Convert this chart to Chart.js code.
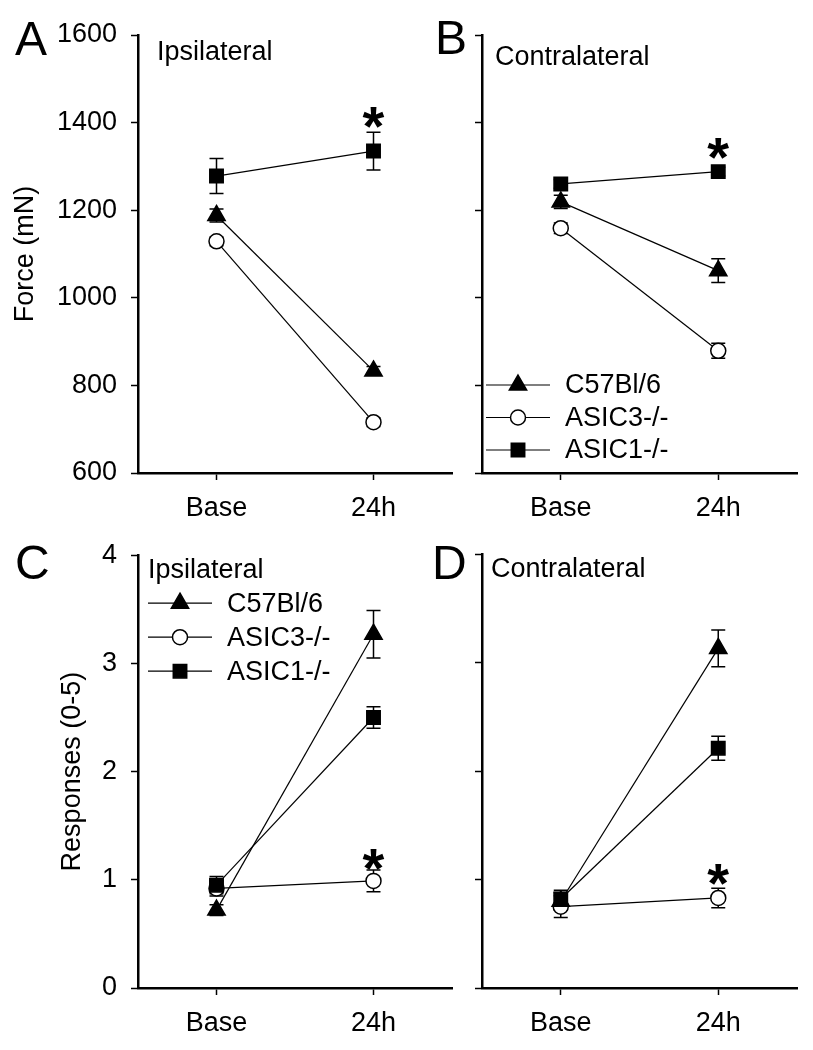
<!DOCTYPE html>
<html>
<head>
<meta charset="utf-8">
<script src="https://cdn.jsdelivr.net/npm/chart.js@4.4.1/dist/chart.umd.min.js"></script>
<style>
  html, body { margin: 0; padding: 0; background: #fff; }
  #fig { position: relative; width: 813px; height: 1050px; }
  canvas { position: absolute; }
</style>
</head>
<body>
<div id="fig">
  <canvas id="panelA" width="470" height="525" style="left:0;top:0"></canvas>
  <canvas id="panelB" width="383" height="525" style="left:430px;top:0"></canvas>
  <canvas id="panelC" width="470" height="525" style="left:0;top:525px"></canvas>
  <canvas id="panelD" width="383" height="525" style="left:430px;top:525px"></canvas>
</div>
<script>
// data
const groups = ['Base', '24h'];
const strains = ['C57Bl/6', 'ASIC3-/-', 'ASIC1-/-'];

// A - force, ipsilateral
const forceIpsiC57 = [1188, 833];
const forceIpsiC57Err = [15, 10];
const forceIpsiAsic3 = [1129, 716];
const forceIpsiAsic3Err = [10, 10];
const forceIpsiAsic1 = [1278, 1335];
const forceIpsiAsic1Err = [40, 43];

// B - force, contralateral
const forceContraC57 = [1219, 1062];
const forceContraC57Err = [15, 27];
const forceContraAsic3 = [1159, 879];
const forceContraAsic3Err = [12, 17];
const forceContraAsic1 = [1260, 1288];
const forceContraAsic1Err = [10, 10];

// C - responses, ipsilateral
const respIpsiC57 = [0.72, 3.27];
const respIpsiC57Err = [0.05, 0.22];
const respIpsiAsic3 = [0.92, 0.99];
const respIpsiAsic3Err = [0.07, 0.1];
const respIpsiAsic1 = [0.95, 2.5];
const respIpsiAsic1Err = [0.08, 0.1];

// D - responses, contralateral
const respContraC57 = [0.8, 3.13];
const respContraC57Err = [0.08, 0.17];
const respContraAsic3 = [0.75, 0.83];
const respContraAsic3Err = [0.1, 0.09];
const respContraAsic1 = [0.82, 2.21];
const respContraAsic1Err = [0.08, 0.11];

const forceTicks = [600, 800, 1000, 1200, 1400, 1600];
const respTicks = [0, 1, 2, 3, 4];

const FONT = '"Liberation Sans", Arial, sans-serif';
Chart.defaults.font.family = FONT;
Chart.defaults.color = '#000';

const markers = [
  { style: 'triangle', radius: 10, fill: '#000', order: 0 },
  { style: 'circle', radius: 7.5, fill: '#fff', order: 2 },
  { style: 'rect', radius: 9.5, fill: '#000', order: 1 }
];

// error bars, panel letter, subtitle, asterisk, legend
const extras = {
  id: 'extras',
  beforeDatasetsDraw(chart) {
    const ctx = chart.ctx, x = chart.scales.x, y = chart.scales.y;
    ctx.save();
    ctx.strokeStyle = '#000';
    ctx.lineWidth = 1.5;
    chart.data.datasets.forEach(ds => {
      ds.data.forEach((p, i) => {
        const e = ds.errors[i];
        const px = x.getPixelForValue(p.x);
        const top = y.getPixelForValue(p.y + e), bot = y.getPixelForValue(p.y - e);
        ctx.beginPath();
        ctx.moveTo(px, top); ctx.lineTo(px, bot);
        ctx.moveTo(px - 7, top); ctx.lineTo(px + 7, top);
        ctx.moveTo(px - 7, bot); ctx.lineTo(px + 7, bot);
        ctx.stroke();
      });
    });
    ctx.restore();
  },
  afterDraw(chart) {
    const o = chart.options.plugins.extras;
    const ctx = chart.ctx, area = chart.chartArea, x = chart.scales.x, y = chart.scales.y;
    ctx.save();
    ctx.fillStyle = '#000';
    ctx.textBaseline = 'alphabetic';
    ctx.textAlign = 'left';
    ctx.font = '48px ' + FONT;
    ctx.fillText(o.letter, o.letterX, o.letterY);
    ctx.font = '27px ' + FONT;
    ctx.fillText(o.subtitle, area.left + o.subX, area.top + o.subY);

    // asterisk over the marked series at 24h
    const ds = chart.data.datasets[o.star];
    const p = ds.data[1];
    const sx = x.getPixelForValue(p.x);
    const sy = y.getPixelForValue(p.y + ds.errors[1]) - o.starGap;
    ctx.font = 'bold 56px ' + FONT;
    ctx.textAlign = 'center';
    ctx.fillText('*', sx, sy + 32);

    if (o.legend) {
      const L = o.legend;
      ctx.textAlign = 'left';
      ctx.textBaseline = 'middle';
      ctx.font = '27px ' + FONT;
      chart.data.datasets.forEach((d, i) => {
        const ry = area.top + L.y + i * L.gap;
        const lx = area.left + L.x;
        ctx.strokeStyle = '#000';
        ctx.lineWidth = 1.2;
        ctx.beginPath();
        ctx.moveTo(lx, ry); ctx.lineTo(lx + 64, ry);
        ctx.stroke();
        ctx.fillStyle = d.pointBackgroundColor;
        ctx.lineWidth = 1.5;
        Chart.helpers.drawPoint(ctx, {
          pointStyle: d.pointStyle, radius: d.pointRadius, rotation: 0, borderWidth: 1.5
        }, lx + 32, ry);
        ctx.fillStyle = '#000';
        ctx.fillText(d.label, lx + 79, ry + 1);
      });
    }
    ctx.restore();
  }
};

function makePanel(id, o) {
  const datasets = o.values.map((v, i) => ({
    label: strains[i],
    data: v.map((val, j) => ({ x: j, y: val })),
    errors: o.errors[i],
    order: markers[i].order,
    borderColor: '#000',
    borderWidth: 1.2,
    pointStyle: markers[i].style,
    pointRadius: markers[i].radius,
    pointBackgroundColor: markers[i].fill,
    pointBorderColor: '#000',
    pointBorderWidth: 1.5,
    tension: 0,
    clip: false
  }));

  return new Chart(document.getElementById(id), {
    type: 'line',
    data: { datasets: datasets },
    options: {
      responsive: false,
      animation: false,
      devicePixelRatio: 1,
      events: [],
      layout: { padding: { left: o.padLeft, top: o.top, right: o.padRight, bottom: 0 } },
      plugins: {
        legend: { display: false },
        tooltip: { enabled: false },
        extras: o.extras
      },
      scales: {
        x: {
          type: 'linear',
          min: -0.5,
          max: 1.5,
          afterBuildTicks: s => { s.ticks = groups.map((g, i) => ({ value: i })); },
          afterFit: s => { s.height = o.xHeight; },
          ticks: {
            callback: v => groups[v],
            font: { size: 27 },
            color: '#000',
            padding: 12,
            maxRotation: 0,
            autoSkip: false
          },
          grid: { drawOnChartArea: false, drawTicks: true, tickLength: 7, tickWidth: 1.5, tickColor: '#000' },
          border: { display: true, color: '#000', width: 2.5 }
        },
        y: {
          min: o.ticks[0],
          max: o.ticks[o.ticks.length - 1],
          afterBuildTicks: s => { s.ticks = o.ticks.map(v => ({ value: v })); },
          afterFit: s => { s.width = o.yWidth; },
          ticks: {
            display: o.yLabels,
            callback: v => String(v),
            font: { size: 27 },
            color: '#000',
            padding: 14
          },
          title: {
            display: !!o.yTitle,
            text: o.yTitle || '',
            font: { size: 27 },
            color: '#000',
            padding: { top: 9, bottom: 0 }
          },
          grid: { drawOnChartArea: false, drawTicks: true, tickLength: 7, tickWidth: 1.5, tickColor: '#000' },
          border: { display: true, color: '#000', width: 2.5 }
        }
      }
    },
    plugins: [extras]
  });
}

makePanel('panelA', {
  values: [forceIpsiC57, forceIpsiAsic3, forceIpsiAsic1],
  errors: [forceIpsiC57Err, forceIpsiAsic3Err, forceIpsiAsic1Err],
  ticks: forceTicks, yLabels: true, yTitle: 'Force (mN)',
  padLeft: 0, yWidth: 138, padRight: 18, top: 35, xHeight: 52,
  extras: { letter: 'A', letterX: 15, letterY: 55, subtitle: 'Ipsilateral', subX: 19, subY: 25, star: 2, starGap: 19 }
});

makePanel('panelB', {
  values: [forceContraC57, forceContraAsic3, forceContraAsic1],
  errors: [forceContraC57Err, forceContraAsic3Err, forceContraAsic1Err],
  ticks: forceTicks, yLabels: false,
  padLeft: 0, yWidth: 52, padRight: 16, top: 35, xHeight: 52,
  extras: { letter: 'B', letterX: 5, letterY: 54, subtitle: 'Contralateral', subX: 13, subY: 30, star: 2, starGap: 23,
            legend: { x: 4, y: 350, gap: 32.5 } }
});

makePanel('panelC', {
  values: [respIpsiC57, respIpsiAsic3, respIpsiAsic1],
  errors: [respIpsiC57Err, respIpsiAsic3Err, respIpsiAsic1Err],
  ticks: respTicks, yLabels: true, yTitle: 'Responses (0-5)',
  padLeft: 47, yWidth: 91, padRight: 18, top: 29, xHeight: 62,
  extras: { letter: 'C', letterX: 15, letterY: 54, subtitle: 'Ipsilateral', subX: 10, subY: 23, star: 1, starGap: 15,
            legend: { x: 10, y: 48, gap: 34 } }
});

makePanel('panelD', {
  values: [respContraC57, respContraAsic3, respContraAsic1],
  errors: [respContraC57Err, respContraAsic3Err, respContraAsic1Err],
  ticks: respTicks, yLabels: false,
  padLeft: 0, yWidth: 52, padRight: 16, top: 29, xHeight: 62,
  extras: { letter: 'D', letterX: 2, letterY: 54, subtitle: 'Contralateral', subX: 9, subY: 23, star: 1, starGap: 18 }
});
</script>
</body>
</html>
